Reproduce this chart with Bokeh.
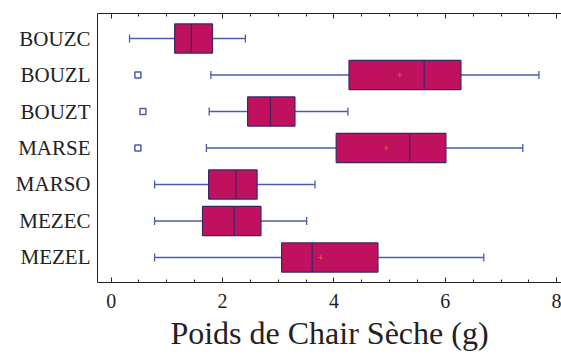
from bokeh.plotting import figure
from bokeh.models import FactorRange, Range1d, LinearAxis, SingleIntervalTicker, ColumnDataSource, CustomJSTickFormatter
from bokeh.embed import file_html
from bokeh.resources import INLINE

# ---- data ----
categories = ["BOUZC", "BOUZL", "BOUZT", "MARSE", "MARSO", "MEZEC", "MEZEL"]
whisker_low = [0.33, 1.79, 1.76, 1.71, 0.78, 0.78, 0.78]
q1 = [1.14, 4.27, 2.45, 4.04, 1.75, 1.64, 3.06]
median = [1.44, 5.62, 2.86, 5.36, 2.24, 2.21, 3.61]
q3 = [1.82, 6.28, 3.30, 6.01, 2.62, 2.69, 4.79]
whisker_high = [2.41, 7.68, 4.25, 7.39, 3.66, 3.51, 6.69]
outlier_cats = ["BOUZL", "BOUZT", "MARSE"]
outlier_vals = [0.48, 0.57, 0.48]
mean_cats = ["BOUZL", "MARSE", "MEZEL"]
mean_vals = [5.18, 4.94, 3.76]
x_title = "Poids de Chair Sèche (g)"

FONT = "Liberation Serif"
BOX_FILL = "#c0115f"
BOX_LINE = "#3b2766"
WHISK = "#4b5cae"
AXIS = "#222222"

p = figure(width=561, height=356, output_backend="svg", toolbar_location=None,
           y_range=FactorRange(factors=categories[::-1], range_padding=0.185,
                               range_padding_units="absolute"),
           x_range=Range1d(-0.245, 8.085),
           min_border_left=97, min_border_right=0, min_border_top=13,
           min_border_bottom=74, x_axis_location="below")
p.outline_line_color = None
p.xgrid.visible = False
p.ygrid.visible = False
p.background_fill_color = "white"
p.border_fill_color = "white"

src = ColumnDataSource(dict(cat=categories, lo=whisker_low, q1=q1, med=median,
                            q3=q3, hi=whisker_high))

# whiskers
p.segment(x0="lo", x1="q1", y0="cat", y1="cat", source=src, line_color=WHISK, line_width=1.3)
p.segment(x0="q3", x1="hi", y0="cat", y1="cat", source=src, line_color=WHISK, line_width=1.3)
# caps
cap_lo = [(c, -0.11) for c in categories]
cap_hi = [(c, 0.11) for c in categories]
p.segment(x0=whisker_low, x1=whisker_low, y0=cap_lo, y1=cap_hi, line_color=WHISK, line_width=1.3)
p.segment(x0=whisker_high, x1=whisker_high, y0=cap_lo, y1=cap_hi, line_color=WHISK, line_width=1.3)
# boxes
p.hbar(y="cat", left="q1", right="q3", height=0.8, source=src,
       fill_color=BOX_FILL, line_color=BOX_LINE, line_width=1.2)
# medians
p.segment(x0=median, x1=median, y0=[(c, -0.4) for c in categories],
          y1=[(c, 0.4) for c in categories], line_color=BOX_LINE, line_width=1.3)
# means
p.scatter(x=mean_vals, y=mean_cats, marker="cross", size=5, line_color="#d9504e", line_width=1)
# outliers
p.scatter(x=outlier_vals, y=outlier_cats, marker="square", size=6, fill_color="white",
          line_color=WHISK, line_width=1.5)

ticker = SingleIntervalTicker(interval=2, num_minor_ticks=4)

xa = p.xaxis[0]
xa.ticker = ticker
xa.axis_line_color = AXIS
xa.major_tick_line_color = AXIS
xa.minor_tick_line_color = AXIS
xa.major_tick_in = 5
xa.major_tick_out = 0
xa.minor_tick_in = 3
xa.minor_tick_out = 0
xa.major_label_text_font = FONT
xa.major_label_text_font_size = "20px"
xa.major_label_text_color = "#222222"
xa.major_label_standoff = 11
xa.axis_label = x_title
xa.axis_label_text_font = FONT
xa.axis_label_text_font_size = "32px"
xa.axis_label_text_font_style = "normal"
xa.axis_label_text_color = "#222222"
xa.axis_label_standoff = 4

top = LinearAxis(ticker=ticker, formatter=CustomJSTickFormatter(code="return ''"),
                 major_label_standoff=0,
                 major_tick_in=5, major_tick_out=0, minor_tick_in=3, minor_tick_out=0,
                 axis_line_color=AXIS, major_tick_line_color=AXIS, minor_tick_line_color=AXIS)
p.add_layout(top, "above")

ya = p.yaxis[0]
ya.axis_line_color = AXIS
ya.major_tick_line_color = None
ya.minor_tick_line_color = None
ya.major_tick_in = 0
ya.major_tick_out = 0
ya.major_label_standoff = 7
ya.major_label_text_font = FONT
ya.major_label_text_font_size = "21px"
ya.major_label_text_color = "#222222"

open("out.html", "w").write(file_html(p, INLINE))
